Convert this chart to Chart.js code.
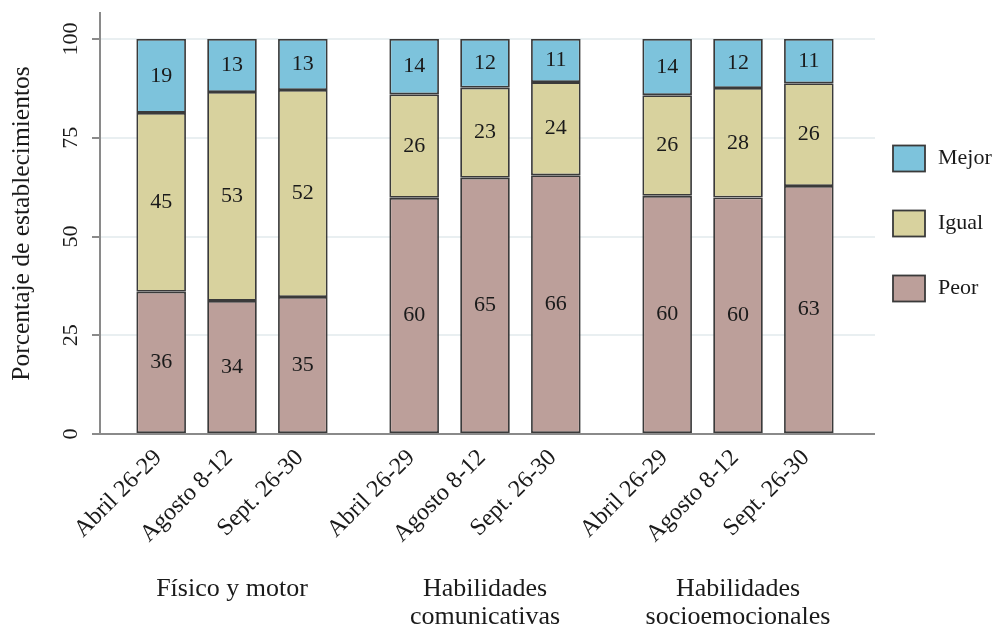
<!DOCTYPE html>
<html>
<head>
<meta charset="utf-8">
<script src="https://cdn.jsdelivr.net/npm/chart.js@4.4.1/dist/chart.umd.min.js"></script>
<style>
  html, body { margin: 0; padding: 0; background: #fff; }
  #wrap { width: 1005px; height: 627px; }
</style>
</head>
<body>
<div id="wrap"><canvas id="chart"></canvas></div>
<script>
// Datos del gráfico
const periods = ["Abril 26-29", "Agosto 8-12", "Sept. 26-30"];
const groups = ["Físico y motor", ["Habilidades", "comunicativas"], ["Habilidades", "socioemocionales"]];
const yTicks = [0, 25, 50, 75, 100];
// por periodo: [Físico y motor, comunicativas, socioemocionales]
const peor = [[36.0, 59.8, 60.3], [33.7, 64.9, 59.9], [34.7, 65.5, 62.8]];
const igual = [[45.3, 26.2, 25.5], [52.9, 22.8, 27.7], [52.4, 23.6, 26.0]];
const mejor = [[18.7, 14.0, 14.2], [13.4, 12.3, 12.4], [12.9, 10.9, 11.2]];

const series = [
    { label: "Peor", values: peor, color: "#bc9f9a" },
    { label: "Igual", values: igual, color: "#d8d29e" },
    { label: "Mejor", values: mejor, color: "#7dc3dc" },
];
const serif = "'Liberation Serif', 'DejaVu Serif', serif";
const ink = "#1a1a1a";
const axisGrey = "#8a8a8a";
const edge = "#3a3a3a";

const datasets = [];
periods.forEach((p, i) => {
    series.forEach((s) => {
        datasets.push({
            label: s.label,
            data: s.values[i],
            stack: p,
            backgroundColor: s.color,
            borderColor: edge,
            borderWidth: 1.8,
            borderSkipped: false,
        });
    });
});

// los grupos quedan un poco hacia dentro del área (como en el original)
const insetX = {
    id: "insetX",
    afterLayout(chart) {
        const x = chart.scales.x;
        x.left += 5.5;
        x.right -= 10.5;
        x.configure();
    },
};

// valores dentro de cada segmento
const barLabels = {
    id: "barLabels",
    afterDatasetsDraw(chart) {
        const ctx = chart.ctx;
        ctx.save();
        ctx.font = "22px " + serif;
        ctx.fillStyle = ink;
        ctx.textAlign = "center";
        ctx.textBaseline = "middle";
        chart.data.datasets.forEach((ds, d) => {
            chart.getDatasetMeta(d).data.forEach((el, i) => {
                ctx.fillText(Math.round(ds.data[i]), el.x, (el.y + el.base) / 2);
            });
        });
        ctx.restore();
    },
};

// fechas giradas bajo cada barra
const periodLabels = {
    id: "periodLabels",
    afterDraw(chart) {
        const ctx = chart.ctx;
        const bottom = chart.chartArea.bottom;
        ctx.save();
        ctx.font = "24px " + serif;
        ctx.fillStyle = ink;
        ctx.textAlign = "right";
        ctx.textBaseline = "middle";
        periods.forEach((p, i) => {
            chart.getDatasetMeta(i * series.length).data.forEach((el) => {
                ctx.save();
                ctx.translate(el.x - 3, bottom + 20);
                ctx.rotate(-Math.PI / 4);
                ctx.fillText(p, 0, 0);
                ctx.restore();
            });
        });
        ctx.restore();
    },
};

// leyenda a la derecha
const sideLegend = {
    id: "sideLegend",
    afterDraw(chart) {
        const { ctx, chartArea } = chart;
        const mid = (chartArea.top + chartArea.bottom) / 2;
        const x = chartArea.right + 18;
        ctx.save();
        ctx.font = "22px " + serif;
        ctx.textBaseline = "middle";
        ctx.textAlign = "left";
        series.slice().reverse().forEach((s, i) => {
            const y = mid + (i - 1) * 65;
            ctx.fillStyle = s.color;
            ctx.fillRect(x, y - 13, 32, 26);
            ctx.strokeStyle = edge;
            ctx.lineWidth = 1.8;
            ctx.strokeRect(x, y - 13, 32, 26);
            ctx.fillStyle = ink;
            ctx.fillText(s.label, x + 45, y);
        });
        ctx.restore();
    },
};

new Chart(document.getElementById("chart"), {
    type: "bar",
    data: { labels: groups, datasets: datasets },
    plugins: [insetX, barLabels, periodLabels, sideLegend],
    options: {
        responsive: true,
        maintainAspectRatio: false,
        animation: false,
        layout: { padding: { top: 13, right: 130, bottom: 0, left: 0 } },
        datasets: { bar: { categoryPercentage: 0.84, barPercentage: 0.7 } },
        plugins: {
            legend: { display: false },
            tooltip: { enabled: false },
        },
        scales: {
            x: {
                stacked: true,
                grid: { display: false, drawTicks: false },
                border: { display: false },
                afterFit: (scale) => {
                    scale.height = 193;
                    scale.paddingLeft = 0;
                    scale.paddingRight = 0;
                },
                ticks: {
                    padding: 142,
                    color: ink,
                    maxRotation: 0,
                    autoSkip: false,
                    font: { family: serif, size: 26, lineHeight: 1.05 },
                },
            },
            y: {
                stacked: true,
                min: 0,
                max: 106.6,
                afterBuildTicks: (axis) => {
                    axis.ticks = yTicks.map((v) => ({ value: v }));
                },
                afterFit: (scale) => {
                    scale.width = 100;
                    scale.paddingTop = 0;
                    scale.paddingBottom = 0;
                },
                grid: {
                    color: (c) => (c.tick && c.tick.value === 0 ? axisGrey : "#e9eff1"),
                    lineWidth: 2,
                    tickColor: axisGrey,
                    tickLength: 8,
                },
                border: { color: axisGrey, width: 2 },
                ticks: {
                    minRotation: 90,
                    maxRotation: 90,
                    crossAlign: "center",
                    padding: 4.5,
                    color: ink,
                    font: { family: serif, size: 22 },
                },
                title: {
                    display: true,
                    text: "Porcentaje de establecimientos",
                    color: ink,
                    font: { family: serif, size: 25.5 },
                    padding: { top: 7, bottom: 20 },
                },
            },
        },
    },
});
</script>
</body>
</html>
